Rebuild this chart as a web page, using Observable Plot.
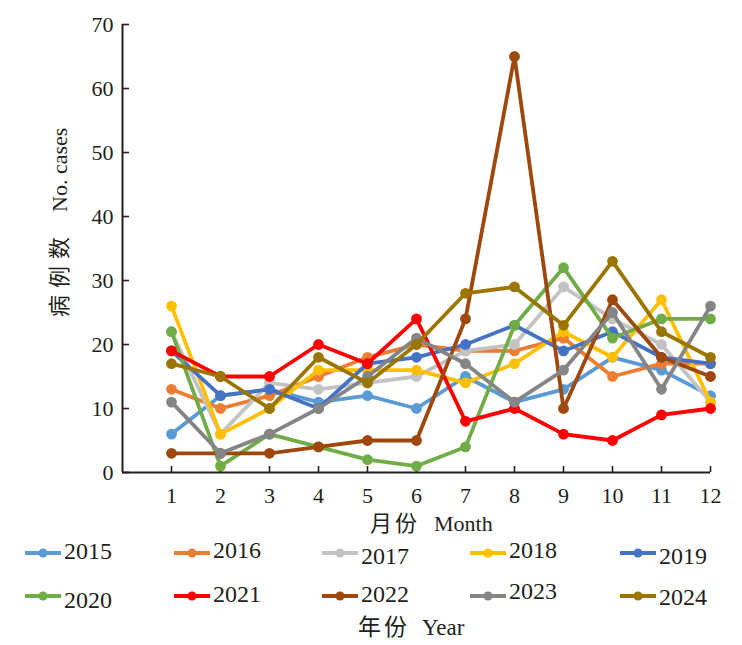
<!DOCTYPE html>
<html>
<head>
<meta charset="utf-8">
<script src="https://cdn.jsdelivr.net/npm/d3@7"></script>
<script src="https://cdn.jsdelivr.net/npm/@observablehq/plot@0.6"></script>
<style>
  html, body { margin: 0; padding: 0; background: #fff; }
  #wrap { position: relative; width: 742px; height: 645px; font-family: "Liberation Serif", "Noto Sans CJK SC", serif; color: #231f20; }
  #chart svg { display: block; }
  .leg { position: absolute; display: flex; align-items: center; font-size: 24px; }
  .leg svg { display: block; }
  .ttl { position: absolute; font-size: 23px; line-height: 1; white-space: pre; }
</style>
</head>
<body>
<div id="wrap">
  <div id="chart"></div>
  <div id="legend"></div>
</div>
<script>
const months = [1, 2, 3, 4, 5, 6, 7, 8, 9, 10, 11, 12];
const yTicks = [0, 10, 20, 30, 40, 50, 60, 70];
const years = ["2015", "2016", "2017", "2018", "2019", "2020", "2021", "2022", "2023", "2024"];
const colors = ["#5b9bd5", "#ed7d31", "#c3c3c3", "#ffc000", "#4472c4", "#70ad47", "#ff0000", "#9e480e", "#858585", "#9a7600"];

const cases2015 = [6, 12, 13, 11, 12, 10, 15, 11, 13, 18, 16, 12];
const cases2016 = [13, 10, 12, 15, 18, 20, 19, 19, 21, 15, 17, 17];
const cases2017 = [22, 6, 14, 13, 14, 15, 19, 20, 29, 24, 20, 11];
const cases2018 = [26, 6, 10, 16, 16, 16, 14, 17, 22, 18, 27, 11];
const cases2019 = [19, 12, 13, 10, 17, 18, 20, 23, 19, 22, 18, 17];
const cases2020 = [22, 1, 6, 4, 2, 1, 4, 23, 32, 21, 24, 24];
const cases2021 = [19, 15, 15, 20, 17, 24, 8, 10, 6, 5, 9, 10];
const cases2022 = [3, 3, 3, 4, 5, 5, 24, 65, 10, 27, 18, 15];
const cases2023 = [11, 3, 6, 10, 15, 21, 17, 11, 16, 25, 13, 26];
const cases2024 = [17, 15, 10, 18, 14, 20, 28, 29, 23, 33, 22, 18];

const series = [cases2015, cases2016, cases2017, cases2018, cases2019, cases2020, cases2021, cases2022, cases2023, cases2024];
const data = years.flatMap((yr, i) => series[i].map((v, j) => ({year: yr, month: months[j], cases: v})));

const ink = "#231f20";
const perYear = years.flatMap(yr => {
  const d = data.filter(r => r.year === yr);
  return [
    Plot.line(d, {x: "month", y: "cases", stroke: "year", strokeWidth: 3.8, strokeLinejoin: "round"}),
    Plot.dot(d, {x: "month", y: "cases", fill: "year", r: 5.4})
  ];
});

const chart = Plot.plot({
  width: 742,
  height: 540,
  marginLeft: 122,
  marginRight: 32,
  marginTop: 24,
  marginBottom: 68,
  x: {domain: [0, 12], label: null},
  y: {domain: [0, 70], label: null},
  color: {domain: years, range: colors},
  style: {fontFamily: "'Liberation Serif', 'Noto Sans CJK SC', serif", fontSize: "22px", color: ink, background: "#fff"},
  marks: [
    Plot.axisX(months, {tickSize: -6, tickPadding: 21, stroke: ink, strokeWidth: 1.6, fill: ink, label: null}),
    Plot.axisY(yTicks, {tickSize: -7, tickPadding: 16, stroke: ink, strokeWidth: 1.6, fill: ink, label: null}),
    ...perYear,
    Plot.ruleY([0], {stroke: ink, strokeWidth: 2}),
    Plot.ruleX([0], {stroke: ink, strokeWidth: 2})
  ]
});
document.getElementById("chart").appendChild(chart);

const svg = d3.select(chart);
const xl = svg.append("text")
  .attr("x", 370).attr("y", 531)
  .attr("text-anchor", "start")
  .attr("fill", ink)
  .style("font-size", "22px");
xl.append("tspan").style("letter-spacing", "3px").text("月份");
xl.append("tspan").attr("x", 434).text("Month");

const yl = svg.append("text")
  .attr("transform", "translate(67,317) rotate(-90)")
  .attr("text-anchor", "start")
  .attr("fill", ink)
  .style("font-size", "22px");
yl.append("tspan").style("letter-spacing", "7px").text("病例数");
yl.append("tspan").attr("x", 105).text("No. cases");

// Legend (HTML, below the SVG)
const legend = document.getElementById("legend");
const colX = [24, 173, 321, 469, 619];
const rowY = [553, 596];
const textDy = [[-2, -3, 3, -3, 3], [4, -2, -2, -5, 1]];
years.forEach((yr, i) => {
  const row = Math.floor(i / 5), col = i % 5;
  const item = document.createElement("div");
  item.className = "leg";
  item.style.left = colX[col] + "px";
  item.style.top = (rowY[row] - 16) + "px";
  item.style.height = "32px";
  item.innerHTML = `<svg width="38" height="32"><line x1="1" x2="37" y1="16" y2="16" stroke="${colors[i]}" stroke-width="4"/><circle cx="19" cy="16" r="4.5" fill="${colors[i]}"/></svg><span style="position:relative;top:${textDy[row][col]}px;margin-left:2px">${yr}</span>`;
  legend.appendChild(item);
});
const ytCn = document.createElement("div");
ytCn.className = "ttl";
ytCn.style.left = "358px"; ytCn.style.top = "616px"; ytCn.style.letterSpacing = "3px";
ytCn.textContent = "年份";
legend.appendChild(ytCn);
const ytEn = document.createElement("div");
ytEn.className = "ttl";
ytEn.style.left = "422px"; ytEn.style.top = "616px";
ytEn.textContent = "Year";
legend.appendChild(ytEn);
</script>
</body>
</html>
